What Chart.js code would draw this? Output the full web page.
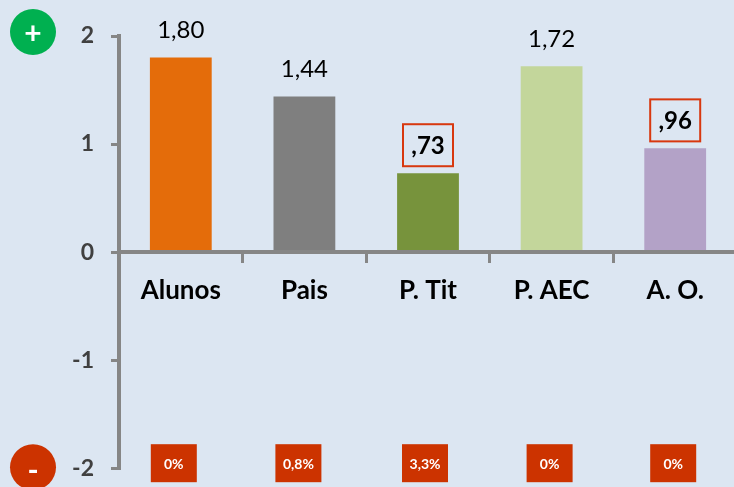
<!DOCTYPE html>
<html>
<head>
<meta charset="utf-8">
<style>
html,body{margin:0;padding:0;background:#DCE6F2;overflow:hidden;width:734px;height:487px}
#wrap{position:absolute;left:0;top:0;width:744px;height:487px;overflow:hidden}
</style>
<script src="https://cdn.jsdelivr.net/npm/chart.js@4"></script>
</head>
<body>
<div id="wrap"><canvas id="c" width="744" height="499"></canvas></div>
<script>
const categories = ['Alunos', 'Pais', 'P. Tit', 'P. AEC', 'A. O.'];
const values = [1.80, 1.44, 0.73, 1.72, 0.96];
const valueLabels = ['1,80', '1,44', ',73', '1,72', ',96'];
const boxedLabels = [false, false, true, false, true];
const percentLabels = ['0%', '0,8%', '3,3%', '0%', '0%'];
const barColors = ['#E46C0A', '#7F7F7F', '#77933C', '#C3D69B', '#B3A2C7'];

const FONT = 'Lato, Carlito, sans-serif';
const RED = '#CC3300';

const annotations = {
  id: 'annotations',
  afterDatasetsDraw(chart) {
    const { ctx, scales: { x, y } } = chart;
    const badgeShift = [-7, -6, -3, -2, -2];
    ctx.save();
    ctx.textAlign = 'center';
    ctx.textBaseline = 'middle';
    values.forEach((v, i) => {
      const cx = x.getPixelForValue(i);
      const top = y.getPixelForValue(v);
      if (boxedLabels[i]) {
        ctx.strokeStyle = '#D8380F';
        ctx.lineWidth = 2;
        ctx.strokeRect(cx - 25, top - 49, 50, 42);
        ctx.fillStyle = '#000';
        ctx.font = 'bold 24px ' + FONT;
        ctx.fillText(valueLabels[i], cx, top - 27);
      } else {
        ctx.fillStyle = '#000';
        ctx.font = '24px ' + FONT;
        ctx.fillText(valueLabels[i], cx, top - 27);
      }
      const by = y.getPixelForValue(-2);
      const bx = cx + badgeShift[i];
      ctx.fillStyle = RED;
      ctx.fillRect(bx - 23, by - 24, 46, 38);
      ctx.fillStyle = '#fff';
      ctx.font = 'bold 14px ' + FONT;
      ctx.fillText(percentLabels[i], bx, by - 4);
    });
    const circle = (val, dy, color, sign, signDy) => {
      const py = y.getPixelForValue(val) + dy;
      ctx.fillStyle = color;
      ctx.beginPath();
      ctx.arc(33, py, 23, 0, Math.PI * 2);
      ctx.fill();
      ctx.fillStyle = '#fff';
      ctx.font = 'bold 30px ' + FONT;
      ctx.fillText(sign, 33, py + signDy);
    };
    circle(2, -4, '#00B050', '+', 2);
    circle(-2, -1, RED, '-', 4);
    ctx.restore();
  }
};

new Chart(document.getElementById('c'), {
  type: 'bar',
  data: {
    labels: categories,
    datasets: [{ data: values, backgroundColor: barColors, barPercentage: 0.5, categoryPercentage: 1 }]
  },
  options: {
    responsive: false,
    animation: false,
    layout: { padding: { top: 36, bottom: 19, left: 0, right: 7 } },
    plugins: { legend: { display: false }, tooltip: { enabled: false } },
    scales: {
      x: {
        position: { y: 0 },
        afterFit(s) { s.height = 0; },
        grid: { z: 1, drawOnChartArea: false, drawTicks: true, tickLength: 9, color: '#868686', lineWidth: 3 },
        border: { z: 1, color: '#868686', width: 4 },
        ticks: { color: '#000', font: { family: FONT, weight: 'bold', size: 26 }, padding: 14, maxRotation: 0, autoSkip: false }
      },
      y: {
        min: -2,
        max: 2,
        afterFit(s) { s.width = 119; },
        grid: { drawOnChartArea: false, tickLength: 8, color: '#868686', lineWidth: 3 },
        border: { color: '#868686', width: 4 },
        ticks: { stepSize: 1, color: '#404040', font: { family: FONT, weight: 'bold', size: 23 }, padding: 17 }
      }
    }
  },
  plugins: [annotations]
});
</script>
</body>
</html>
